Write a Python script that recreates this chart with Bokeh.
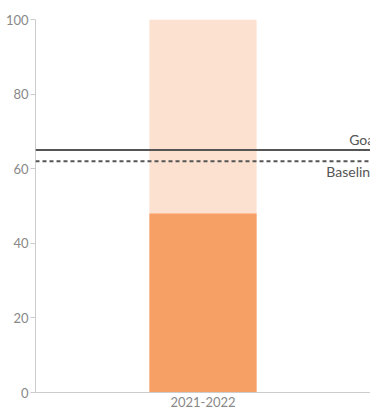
from bokeh.plotting import figure
from bokeh.models import Span, Label, FactorRange, Range1d, ColumnDataSource
from bokeh.embed import file_html
from bokeh.resources import INLINE

categories = ["2021-2022"]
values = [48]
max_values = [100]
goal = 65
baseline = 62
y_ticks = [0, 20, 40, 60, 80, 100]

FONT = "Lato"

p = figure(width=370, height=409, x_range=FactorRange(*categories, range_padding=0),
           y_range=Range1d(0, 100), output_backend="svg", toolbar_location=None,
           min_border_left=35, min_border_right=0, min_border_top=19, min_border_bottom=17)
p.outline_line_color = None
p.grid.grid_line_color = None
p.background_fill_color = "white"

src = ColumnDataSource(dict(cat=categories, val=values, top=max_values))
p.vbar(x="cat", top="top", width=0.32, source=src, color="#FCE1D1", line_color=None)
p.vbar(x="cat", top="val", width=0.32, source=src, color="#F6A065", line_color=None)

p.add_layout(Span(location=goal, dimension="width", line_color="#555555", line_width=2))
p.add_layout(Span(location=baseline, dimension="width", line_color="#555555", line_width=2,
                  line_dash="4 3"))

p.add_layout(Label(x=342, y=goal, x_units="screen", y_offset=2, text="Goal",
                   text_align="right", text_baseline="bottom", text_font=FONT,
                   text_font_size="14px", text_color="#555555"))
p.add_layout(Label(x=342, y=baseline, x_units="screen", y_offset=-2, text="Baseline",
                   text_align="right", text_baseline="top", text_font=FONT,
                   text_font_size="14px", text_color="#555555"))

p.yaxis.ticker = y_ticks
p.yaxis.axis_line_color = "#cccccc"
p.yaxis.major_tick_line_color = "#cccccc"
p.yaxis.major_tick_out = 5
p.yaxis.major_tick_in = 0
p.yaxis.minor_tick_line_color = None
p.yaxis.major_label_standoff = 2
p.yaxis.major_label_text_font = FONT
p.yaxis.major_label_text_font_size = "13px"
p.yaxis.major_label_text_color = "#888888"

p.xaxis.axis_line_color = "#cccccc"
p.xaxis.major_tick_line_color = None
p.xaxis.major_tick_out = 0
p.xaxis.major_tick_in = 0
p.xaxis.major_label_standoff = 4
p.xaxis.major_label_text_font = FONT
p.xaxis.major_label_text_font_size = "13px"
p.xaxis.major_label_text_color = "#888888"

open("out.html", "w").write(file_html(p, INLINE))
